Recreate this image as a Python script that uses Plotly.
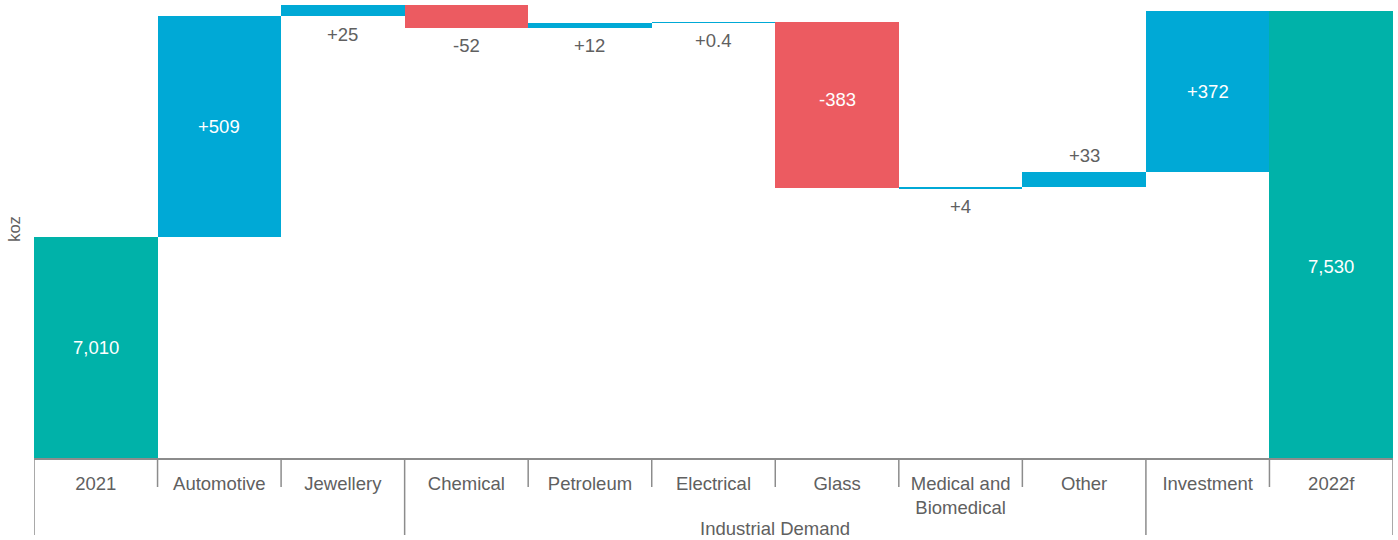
import plotly.graph_objects as go

categories = ["2021", "Automotive", "Jewellery", "Chemical", "Petroleum", "Electrical",
              "Glass", "Medical and Biomedical", "Other", "Investment", "2022f"]
tick_labels = ["2021", "Automotive", "Jewellery", "Chemical", "Petroleum", "Electrical",
               "Glass", "Medical and<br>Biomedical", "Other", "Investment", "2022f"]
values = [7010, 509, 25, -52, 12, 0.4, -383, 4, 33, 372, 7530]
measures = ["absolute", "relative", "relative", "relative", "relative", "relative",
            "relative", "relative", "relative", "relative", "absolute"]
value_labels = ["7,010", "+509", "+25", "-52", "+12", "+0.4", "-383", "+4", "+33", "+372", "7,530"]
groups = ["", "", "", "Industrial Demand", "Industrial Demand", "Industrial Demand",
          "Industrial Demand", "Industrial Demand", "Industrial Demand", "", ""]
label_pos = ["in", "in", "below", "below", "below", "below", "in", "below", "above", "in", "in"]
label_shift = [0, 0, 0, 0, 0, 0, 6, 0, 0, 0, -32]

Y_MIN, Y_MAX = 6500, 7556
TEAL, BLUE, RED = "#00B2A9", "#00A9D6", "#EC5B61"
GREY_TXT = "#606060"
FONT = "Liberation Sans, Arial, sans-serif"
FS = 18.5

n = len(categories)
xs = list(range(n))

fig = go.Figure(go.Waterfall(
    x=xs, y=values, measure=measures,
    connector=dict(visible=False),
    increasing=dict(marker=dict(color=BLUE, line=dict(width=0))),
    decreasing=dict(marker=dict(color=RED, line=dict(width=0))),
    totals=dict(marker=dict(color=TEAL, line=dict(width=0))),
    textinfo="none", hovertext=categories, hoverinfo="text+y",
))

# label annotations computed from the running totals
running = 0
for i, (v, m) in enumerate(zip(values, measures)):
    if m == "absolute":
        lo, hi = Y_MIN, v
        running = v
    else:
        a, b = running, running + v
        lo, hi = min(a, b), max(a, b)
        running = b
    pos = label_pos[i]
    if pos == "in":
        y = (max(lo, Y_MIN) + hi) / 2
        shift = label_shift[i]
        color = "white"
    elif pos == "below":
        y = lo
        shift = -18 + label_shift[i]
        color = GREY_TXT
    else:
        y = hi
        shift = 17 + label_shift[i]
        color = GREY_TXT
    fig.add_annotation(x=xs[i], y=y, yshift=shift, text=value_labels[i], showarrow=False,
                       yanchor="middle", font=dict(color=color, size=FS, family=FONT))

# category dividers (long at group boundaries, short between categories)
PLOT_H = 458
for b in range(n + 1):
    left = groups[b - 1] if b > 0 else None
    right = groups[b] if b < n else None
    long_line = b == 0 or b == n or (left != right)
    depth = 77 if long_line else 29
    fig.add_shape(type="line", xref="x", yref="paper", x0=b - 0.5, x1=b - 0.5,
                  y0=0, y1=-depth / PLOT_H, line=dict(color="#8c8c8c", width=1.5))

# group label
idx = [i for i, g in enumerate(groups) if g == "Industrial Demand"]
fig.add_annotation(x=(idx[0] + idx[-1]) / 2, xref="x", y=-70 / PLOT_H, yref="paper",
                   yanchor="middle", text="Industrial Demand", showarrow=False,
                   font=dict(color=GREY_TXT, size=FS, family=FONT))

fig.update_layout(
    width=1398, height=540,
    margin=dict(l=34, r=5, t=0, b=82, autoexpand=False),
    paper_bgcolor="white", plot_bgcolor="white",
    waterfallgap=0, showlegend=False,
    font=dict(family=FONT, color=GREY_TXT, size=FS),
    xaxis=dict(range=[-0.5, n - 0.5], tickvals=xs, ticktext=tick_labels, tickangle=0,
               showline=True, linecolor="#8c8c8c", linewidth=1.5, automargin=False,
               ticks="outside", ticklen=8, tickcolor="rgba(0,0,0,0)",
               showgrid=False, zeroline=False, tickfont=dict(size=FS, color=GREY_TXT)),
    yaxis=dict(range=[Y_MIN, Y_MAX], showticklabels=False, showgrid=False, zeroline=False,
               automargin=False,
               title=dict(text="koz", standoff=8, font=dict(size=16.5, color=GREY_TXT))),
)

fig.write_html("out.html")
